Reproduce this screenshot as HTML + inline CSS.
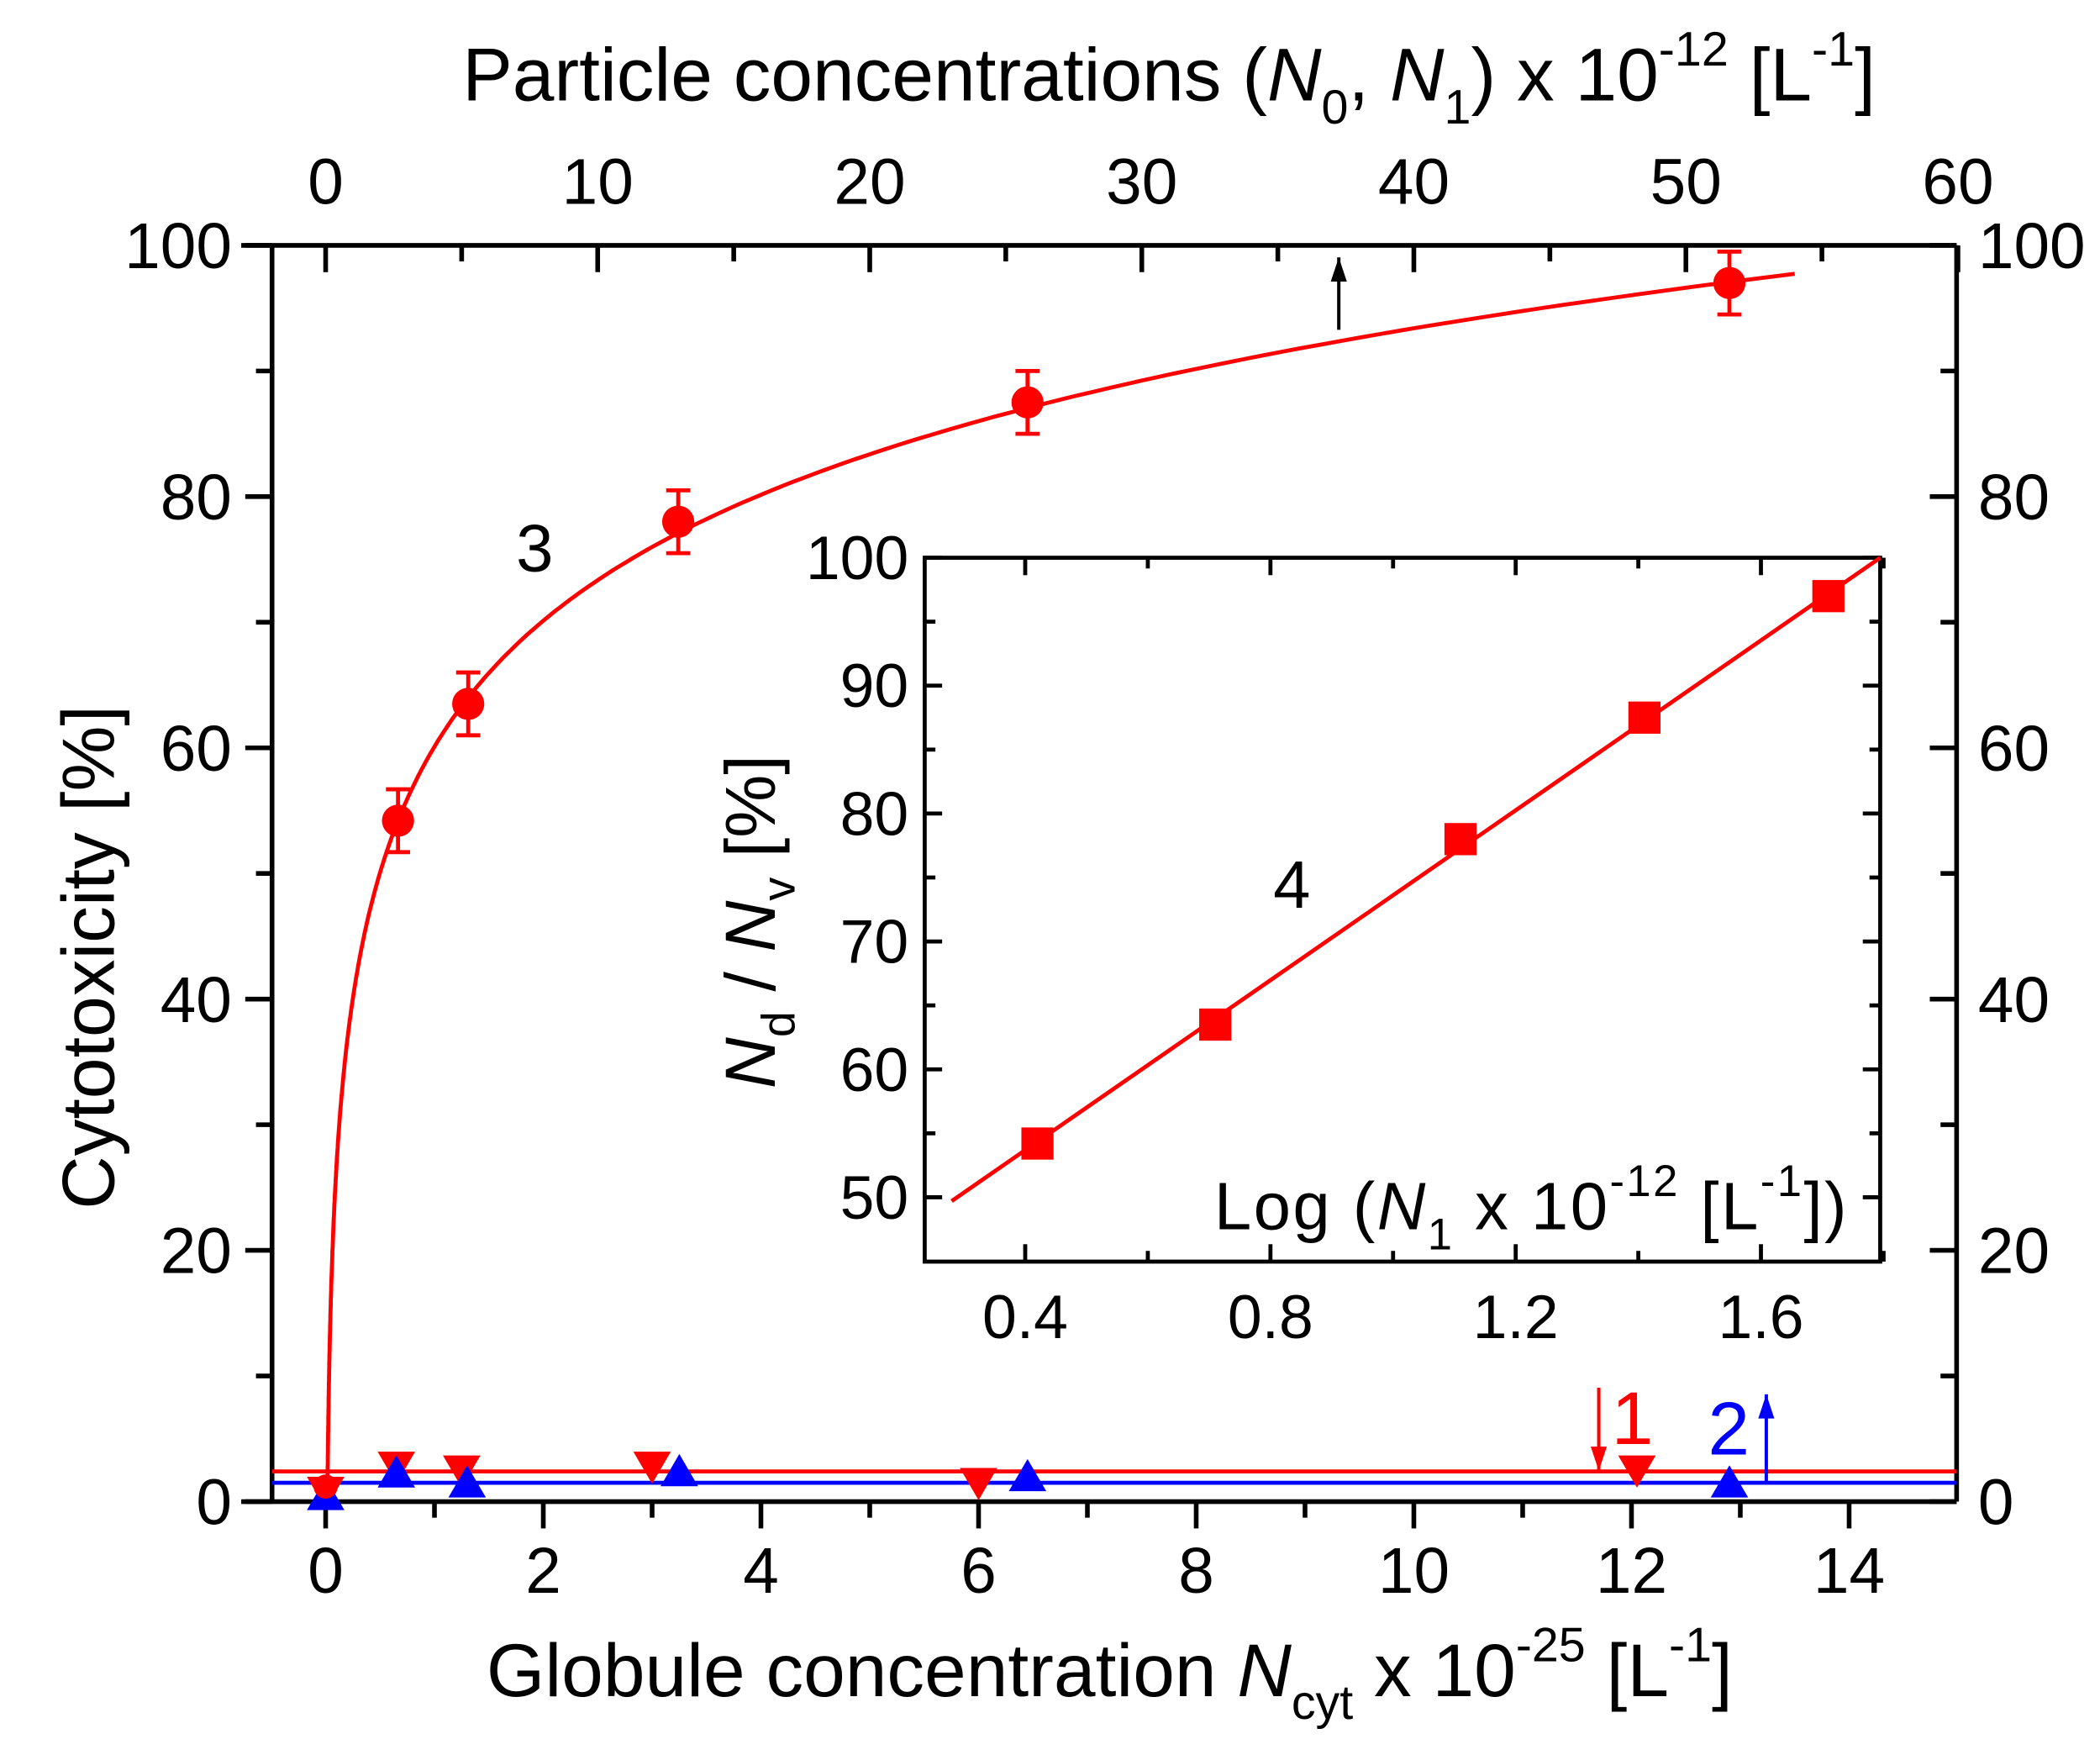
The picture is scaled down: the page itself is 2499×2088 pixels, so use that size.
<!DOCTYPE html>
<html><head><meta charset="utf-8"><style>
html,body{margin:0;padding:0;background:#fff}
svg{display:block}
text{font-family:"Liberation Sans",Arial,sans-serif}
</style></head><body>
<svg id="s" width="2499" height="2088" viewBox="0 0 1567 1309" preserveAspectRatio="none" xmlns="http://www.w3.org/2000/svg"></svg>
<script>
const s=document.getElementById('s');let h='';
const X=x=>243+81.2*x, Y=y=>1120-9.37*y;
const IX=v=>765+457.5*(v-0.4), IY=v=>416+9.54*(100-v);
const L=(x1,y1,x2,y2,c='#000',w=3.5)=>h+=`<line x1="${x1}" y1="${y1}" x2="${x2}" y2="${y2}" stroke="${c}" stroke-width="${w}"/>`;
const T=(x,y,t,sz=48,a='middle',c='#000',ex='')=>h+=`<text x="${x}" y="${y}" font-size="${sz}" text-anchor="${a}" style="fill:${c}" ${ex}>${t}</text>`;
L(203,183,203,1120);L(1460,183,1460,1120);L(180,183,1460,183);L(180,1120,1460,1120);
for(let v=0;v<=100;v+=10){const y=Y(v),m=v%20==0;L(m?183:191,y,203,y);L(1460,y,m?1440:1448,y);if(m){T(173,y+17,v,48,'end');T(1476,y+17,v,48,'start');}}
for(let v=0;v<=15;v+=1){const x=X(v),m=v%2==0;if(v<=14)L(x,1120,x,m?1140:1132);if(m&&v<=14)T(x,1188,v);}
for(let v=0;v<=60;v+=5){const x=X(v/4),m=v%10==0;L(x,183,x,m?203:195);if(m)T(x,152,v);}
L(203,Y(2.4),1460,Y(2.4),'#f00',3);L(203,Y(1.5),1460,Y(1.5),'#00f',3);
const tri=(x,y,c,up)=>{const px=X(x),py=Y(y),r=14;h+=up?`<polygon points="${px-r},${py+11} ${px+r},${py+11} ${px},${py-13}" fill="${c}"/>`:`<polygon points="${px-r},${py-11} ${px+r},${py-11} ${px},${py+13}" fill="${c}"/>`;};
[[0,0.8],[0.65,2.8],[1.25,2.5],[3.0,2.8],[6.0,1.5],[12.05,2.5]].forEach(p=>tri(p[0],p[1],'#f00',false));
[[0,0.5],[0.65,2.3],[1.3,1.5],[3.25,2.4],[6.45,2.0],[12.9,1.5]].forEach(p=>tri(p[0],p[1],'#00f',true));
let d='';const f=x=>54.2+33.3*(Math.log10(4*x)-0.425);
let first=true;for(let x=0.0165;x<=13.5;x*=1.02){let y=Math.max(0,f(x));d+=(first?'M':'L')+X(x).toFixed(1)+','+Y(y).toFixed(1);first=false;}
d+='L'+X(13.5)+','+Y(f(13.5));
h+=`<path d="${d}" fill="none" stroke="#f00" stroke-width="3"/>`;
[[0.665,54.2],[1.31,63.5],[3.24,78],[6.45,87.5],[12.9,97]].forEach(p=>{const px=X(p[0]);L(px,Y(p[1]-2.5),px,Y(p[1]+2.5),'#f00',3);L(px-9,Y(p[1]-2.5),px+9,Y(p[1]-2.5),'#f00',3);L(px-9,Y(p[1]+2.5),px+9,Y(p[1]+2.5),'#f00',3);h+=`<circle cx="${px}" cy="${Y(p[1])}" r="12" fill="#f00"/>`;});
h+=`<circle cx="${X(0)}" cy="${Y(1.2)}" r="9" fill="#f00"/>`;
const arr=(x,y1,y2,c)=>{L(x,y1,x,y2,c,2.5);const dir=y2<y1?1:-1;h+=`<polygon points="${x-6},${y2+dir*18} ${x+6},${y2+dir*18} ${x},${y2}" fill="${c}"/>`;};
arr(999,246,192,'#000');arr(1193,1035,1097,'#f00');arr(1318,1105,1040,'#00f');
T(1218,1077,'1',56,'middle','#f00');T(1290,1085,'2',56,'middle','#00f');
T(399,426,'3',50);
h+=`<rect x="690" y="416" width="713" height="525" fill="#fff" stroke="#000" stroke-width="3"/>`;
for(let v=50;v<=100;v+=5){const y=IY(v),m=v%10==0;L(690,y,m?703:698,y,'#000',3);L(1403,y,m?1390:1395,y,'#000',3);if(m)T(678,y+16,v,46,'end');}
for(let v=0.4;v<=1.8;v+=0.2){const x=IX(v),m=Math.round(v*10)%4==0;L(x,941,x,m?928:933,'#000',3);L(x,416,x,m?429:424,'#000',3);if(m)T(x,998,v.toFixed(1),46);}
L(IX(0.28),IY(49.7),1403,416,'#f00',3);
[[0.42,54.2],[0.71,63.5],[1.11,78],[1.41,87.5],[1.71,97]].forEach(p=>h+=`<rect x="${IX(p[0])-12}" y="${IY(p[1])-12}" width="24" height="24" fill="#f00"/>`);
T(964,677,'4',50);
h+=`<text x="906" y="917" font-size="50" textLength="472">Log (<tspan font-style="italic">N</tspan><tspan font-size="33" dy="15">1</tspan><tspan dy="-15"> x 10</tspan><tspan font-size="33" dy="-25">-12</tspan><tspan dy="25"> [L</tspan><tspan font-size="33" dy="-25">-1</tspan><tspan dy="25">])</tspan></text>`;
h+=`<text transform="translate(578,812) rotate(-90)" font-size="53"><tspan font-style="italic">N</tspan><tspan font-size="35" dy="15">d</tspan><tspan dy="-15"> / </tspan><tspan font-style="italic">N</tspan><tspan font-size="35" dy="15">v</tspan><tspan dy="-15">  [%]</tspan></text>`;
h+=`<text transform="translate(85,902) rotate(-90)" font-size="55">Cytotoxicity [%]</text>`;
h+=`<text x="363" y="1265" font-size="56">Globule concentration <tspan font-style="italic">N</tspan><tspan font-size="36" dy="17">cyt</tspan><tspan dy="-17"> x 10</tspan><tspan font-size="36" dy="-26">-25</tspan><tspan dy="26"> [L</tspan><tspan font-size="36" dy="-26">-1</tspan><tspan dy="26">]</tspan></text>`;
h+=`<text x="345" y="75" font-size="56">Particle concentrations (<tspan font-style="italic">N</tspan><tspan font-size="36" dy="17">0</tspan><tspan dy="-17">, </tspan><tspan font-style="italic">N</tspan><tspan font-size="36" dy="17">1</tspan><tspan dy="-17">) x 10</tspan><tspan font-size="36" dy="-26">-12</tspan><tspan dy="26"> [L</tspan><tspan font-size="36" dy="-26">-1</tspan><tspan dy="26">]</tspan></text>`;
s.innerHTML=h;
</script>
</body></html>
